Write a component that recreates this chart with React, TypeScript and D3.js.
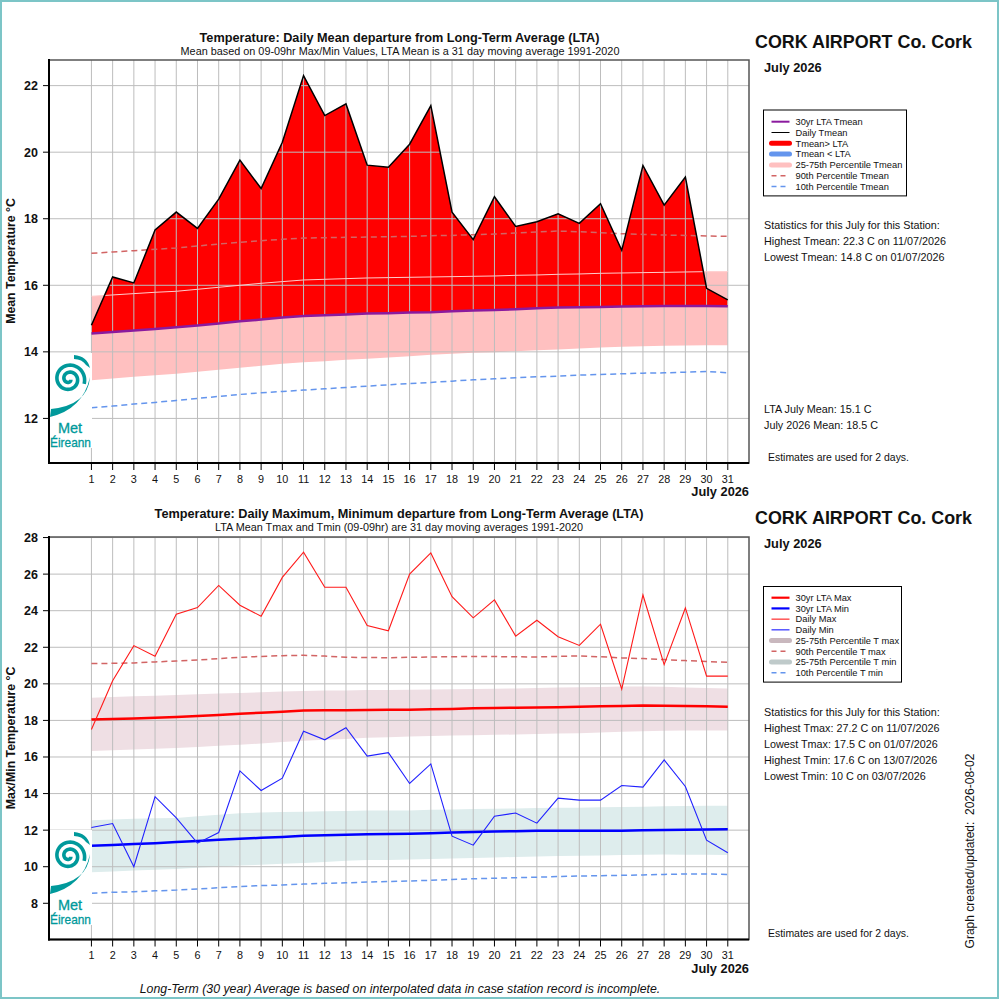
import React from "react";
import * as d3 from "d3";

// ---------- DATA ----------
const days = d3.range(1, 32);

// Top panel: daily mean temperature
const tmean = [14.8, 16.25, 16.07, 17.66, 18.2, 17.71, 18.59, 19.76, 18.91, 20.3, 22.3, 21.1, 21.45, 19.61, 19.55, 20.24, 21.4, 18.2, 17.37, 18.66, 17.77, 17.91, 18.15, 17.86, 18.45, 17.05, 19.6, 18.41, 19.25, 15.91, 15.56];
const ltaMean = [14.55, 14.6, 14.64, 14.69, 14.74, 14.79, 14.85, 14.92, 14.97, 15.03, 15.08, 15.1, 15.12, 15.15, 15.16, 15.18, 15.19, 15.22, 15.24, 15.26, 15.28, 15.31, 15.33, 15.34, 15.35, 15.36, 15.37, 15.38, 15.38, 15.38, 15.37];
const p25Mean = [13.15, 13.2, 13.25, 13.3, 13.34, 13.4, 13.46, 13.52, 13.58, 13.64, 13.69, 13.72, 13.76, 13.79, 13.83, 13.87, 13.91, 13.94, 13.97, 13.99, 14.02, 14.05, 14.07, 14.1, 14.13, 14.15, 14.17, 14.18, 14.19, 14.2, 14.2];
const p75Mean = [15.67, 15.71, 15.75, 15.79, 15.82, 15.88, 15.94, 16.0, 16.06, 16.11, 16.16, 16.18, 16.2, 16.22, 16.23, 16.24, 16.25, 16.26, 16.27, 16.28, 16.3, 16.31, 16.33, 16.34, 16.36, 16.37, 16.38, 16.39, 16.4, 16.41, 16.41];
const p90Mean = [16.96, 17.0, 17.04, 17.08, 17.12, 17.18, 17.24, 17.29, 17.34, 17.38, 17.42, 17.43, 17.44, 17.45, 17.46, 17.47, 17.49, 17.5, 17.52, 17.54, 17.57, 17.6, 17.63, 17.61, 17.58, 17.55, 17.53, 17.51, 17.5, 17.48, 17.47];
const p10Mean = [12.32, 12.37, 12.43, 12.48, 12.54, 12.6, 12.66, 12.72, 12.77, 12.81, 12.85, 12.89, 12.93, 12.97, 13.01, 13.05, 13.08, 13.12, 13.16, 13.19, 13.22, 13.25, 13.27, 13.3, 13.32, 13.34, 13.36, 13.37, 13.39, 13.41, 13.37];

// Bottom panel: daily max / min
const tmax = [17.5, 20.17, 22.09, 21.51, 23.81, 24.17, 25.38, 24.3, 23.7, 25.82, 27.2, 25.28, 25.28, 23.19, 22.9, 26.0, 27.16, 24.77, 23.61, 24.59, 22.61, 23.48, 22.58, 22.1, 23.26, 19.71, 24.86, 21.05, 24.15, 20.42, 20.42];
const tmin = [12.14, 12.36, 10.0, 13.83, 12.67, 11.29, 11.87, 15.24, 14.17, 14.84, 17.41, 16.94, 17.6, 16.05, 16.24, 14.55, 15.62, 11.67, 11.18, 12.76, 12.94, 12.38, 13.75, 13.64, 13.64, 14.44, 14.35, 15.84, 14.39, 11.45, 10.76];
const ltaMax = [18.05, 18.08, 18.11, 18.14, 18.19, 18.24, 18.3, 18.36, 18.42, 18.48, 18.54, 18.55, 18.56, 18.57, 18.58, 18.59, 18.61, 18.63, 18.66, 18.68, 18.69, 18.7, 18.72, 18.75, 18.77, 18.79, 18.81, 18.8, 18.79, 18.77, 18.75];
const p75Max = [19.24, 19.28, 19.32, 19.35, 19.39, 19.43, 19.47, 19.5, 19.54, 19.58, 19.61, 19.63, 19.64, 19.66, 19.67, 19.68, 19.69, 19.7, 19.72, 19.73, 19.75, 19.77, 19.8, 19.82, 19.83, 19.85, 19.86, 19.84, 19.8, 19.77, 19.75];
const p25Max = [16.33, 16.37, 16.41, 16.45, 16.49, 16.55, 16.61, 16.67, 16.74, 16.82, 16.89, 16.94, 16.99, 17.05, 17.08, 17.12, 17.15, 17.17, 17.19, 17.21, 17.23, 17.26, 17.28, 17.3, 17.34, 17.38, 17.41, 17.43, 17.45, 17.45, 17.45];
const p90Max = [21.11, 21.12, 21.14, 21.2, 21.25, 21.3, 21.38, 21.45, 21.5, 21.54, 21.56, 21.52, 21.45, 21.44, 21.43, 21.45, 21.47, 21.48, 21.5, 21.49, 21.48, 21.47, 21.5, 21.53, 21.48, 21.42, 21.38, 21.33, 21.27, 21.22, 21.18];
const ltaMin = [11.14, 11.19, 11.24, 11.29, 11.35, 11.41, 11.47, 11.53, 11.58, 11.63, 11.69, 11.72, 11.75, 11.78, 11.79, 11.8, 11.83, 11.87, 11.9, 11.92, 11.94, 11.96, 11.96, 11.96, 11.96, 11.97, 11.99, 12.01, 12.02, 12.04, 12.05];
const p75Min = [12.54, 12.58, 12.62, 12.65, 12.67, 12.76, 12.84, 12.92, 12.96, 12.99, 13.01, 13.03, 13.05, 13.08, 13.08, 13.08, 13.11, 13.13, 13.15, 13.17, 13.19, 13.21, 13.22, 13.23, 13.25, 13.27, 13.28, 13.3, 13.32, 13.33, 13.34];
const p25Min = [9.7, 9.74, 9.79, 9.84, 9.88, 9.94, 10.0, 10.06, 10.11, 10.16, 10.2, 10.26, 10.32, 10.37, 10.37, 10.39, 10.42, 10.45, 10.48, 10.51, 10.53, 10.56, 10.58, 10.6, 10.62, 10.64, 10.66, 10.67, 10.66, 10.65, 10.64];
const p10Min = [8.55, 8.6, 8.63, 8.68, 8.72, 8.78, 8.85, 8.92, 8.97, 9.0, 9.05, 9.09, 9.12, 9.16, 9.19, 9.22, 9.26, 9.3, 9.34, 9.37, 9.4, 9.43, 9.46, 9.49, 9.51, 9.53, 9.55, 9.58, 9.6, 9.6, 9.58];

const yTicksTop = [12, 14, 16, 18, 20, 22];
const yTicksBottom = [8, 10, 12, 14, 16, 18, 20, 22, 24, 26, 28];

const legendTop = [
  { label: "30yr LTA Tmean", color: "#8b1a9e", width: 2, dash: "" },
  { label: "Daily Tmean", color: "#000000", width: 1, dash: "" },
  { label: "Tmean> LTA", color: "#ff0000", width: 5, dash: "" },
  { label: "Tmean < LTA", color: "#6495ed", width: 5, dash: "" },
  { label: "25-75th Percentile Tmean", color: "#ffc0c0", width: 5, dash: "" },
  { label: "90th Percentile Tmean", color: "#d26464", width: 1.5, dash: "5,4" },
  { label: "10th Percentile Tmean", color: "#6495ed", width: 1.5, dash: "5,4" },
];
const legendBottom = [
  { label: "30yr LTA Max", color: "#ff0000", width: 2.2, dash: "" },
  { label: "30yr LTA Min", color: "#0000ff", width: 2.2, dash: "" },
  { label: "Daily Max", color: "#ff0000", width: 1, dash: "" },
  { label: "Daily Min", color: "#0000ff", width: 1, dash: "" },
  { label: "25-75th Percentile T max", color: "#c9b8be", width: 5, dash: "" },
  { label: "90th Percentile T max", color: "#d26464", width: 1.5, dash: "5,4" },
  { label: "25-75th Percentile T min", color: "#bfcaca", width: 5, dash: "" },
  { label: "10th Percentile T min", color: "#6495ed", width: 1.5, dash: "5,4" },
];

const statsTop = [
  "Statistics for this July for this Station:",
  "Highest Tmean: 22.3 C on 11/07/2026",
  "Lowest Tmean: 14.8 C on 01/07/2026",
];
const statsBottom = [
  "Statistics for this July for this Station:",
  "Highest Tmax: 27.2 C on 11/07/2026",
  "Lowest Tmax: 17.5 C on 01/07/2026",
  "Highest Tmin: 17.6 C on 13/07/2026",
  "Lowest Tmin: 10 C on 03/07/2026",
];

// ---------- LAYOUT ----------
const FONT = "'Liberation Sans', Arial, Helvetica, sans-serif";
const X0 = 49;
const X1 = 749;
const x = d3.scaleLinear().domain([-1, 32]).range([X0, X1]);
const TEAL = "#00999b";

function Logo({ bx, by }: { bx: number; by: number }) {
  const cx = bx + 20;
  const cy = by + 26;
  const pts: [number, number][] = [];
  for (let t = 0.4; t <= 4.1 * Math.PI; t += 0.12) {
    const r = 1.5 + t * 1.12;
    pts.push([cx + r * Math.cos(t), cy + r * Math.sin(t)]);
  }
  const spiral = d3.line()(pts) || "";
  const tail = `M ${bx + 1} ${by + 64} Q ${bx + 34} ${by + 56} ${bx + 41} ${by + 24} Q ${bx + 39} ${by + 52} ${bx + 2} ${by + 56} Z`;
  const hook = `M ${bx + 25} ${by + 2} Q ${bx + 38} ${by + 3} ${bx + 41} ${by + 15} L ${bx + 37} ${by + 12} Q ${bx + 33} ${by + 6} ${bx + 25} ${by + 6} Z`;
  return (
    <g>
      <rect x={bx} y={by} width={43} height={95} fill="#ffffff" />
      <path d={spiral} fill="none" stroke={TEAL} strokeWidth={3.6} />
      <path d={tail} fill={TEAL} />
      <path d={hook} fill={TEAL} />
      <text x={bx + 21} y={by + 80} fontSize={14.5} fontFamily={FONT} fill={TEAL} stroke={TEAL} strokeWidth={0.3} textAnchor="middle">Met</text>
      <text x={bx + 1} y={by + 94} fontSize={13.5} fontFamily={FONT} fill={TEAL} stroke={TEAL} strokeWidth={0.3} textLength={41} lengthAdjust="spacingAndGlyphs">Éireann</text>
    </g>
  );
}

function Legend({ items, lx, ly, w, rowStart, rowStep }: any) {
  const h = rowStart + rowStep * items.length - rowStep / 2 + 4;
  return (
    <g>
      <rect x={lx} y={ly} width={w} height={h} fill="#fff" stroke="#000" strokeWidth={1} />
      {items.map((it: any, i: number) => {
        const yy = ly + rowStart + i * rowStep;
        return (
          <g key={i}>
            <line x1={lx + 8} x2={lx + 26} y1={yy} y2={yy} stroke={it.color} strokeWidth={it.width}
              strokeDasharray={it.dash || undefined} strokeLinecap={it.width >= 5 ? "round" : "butt"} />
            <text x={lx + 32} y={yy + 3.3} fontSize={9.3} fontFamily={FONT} fill="#111">{it.label}</text>
          </g>
        );
      })}
    </g>
  );
}

function Frame({ y, top, bottom, ticks, yTitle, titleCenter }: any) {
  return (
    <g>
      {ticks.map((t: number) => (
        <g key={t}>
          <line x1={X0 - 6} x2={X0} y1={y(t)} y2={y(t)} stroke="#000" strokeWidth={1} />
          <text x={X0 - 11} y={y(t) + 4.5} fontSize={12.5} fontWeight="bold" fontFamily={FONT} textAnchor="end" fill="#111">{t}</text>
        </g>
      ))}
      {days.map((d) => (
        <g key={d}>
          <line x1={x(d)} x2={x(d)} y1={bottom} y2={bottom + 7} stroke="#000" strokeWidth={1} />
          <text x={x(d)} y={bottom + 19.5} fontSize={10.8} fontFamily={FONT} textAnchor="middle" fill="#111">{d}</text>
        </g>
      ))}
      <text x={X1} y={bottom + 33} fontSize={12.8} fontWeight="bold" fontFamily={FONT} textAnchor="end" fill="#111">July 2026</text>
      <rect x={X0} y={top} width={X1 - X0} height={bottom - top} fill="none" stroke="#555" strokeWidth={1.5} />
      <line x1={X0} x2={X0} y1={top - 1} y2={bottom + 1} stroke="#000" strokeWidth={2} />
      <line x1={X0 - 1} x2={X1} y1={bottom} y2={bottom} stroke="#000" strokeWidth={2} />
      <text transform={`translate(15,${titleCenter}) rotate(-90)`} fontSize={12.3} fontWeight="bold" fontFamily={FONT} textAnchor="middle" fill="#111">{yTitle}</text>
    </g>
  );
}

function Grid({ y, top, bottom, ticks }: any) {
  return (
    <g>
      {days.map((d) => (
        <line key={"v" + d} x1={x(d)} x2={x(d)} y1={top} y2={bottom} stroke="#bdbdbd" strokeWidth={1} />
      ))}
      {ticks.map((t: number) => (
        <line key={"h" + t} x1={X0} x2={X1} y1={y(t)} y2={y(t)} stroke="#bdbdbd" strokeWidth={1} />
      ))}
    </g>
  );
}

export default function App() {
  const T0 = 60, T1 = 463;
  const yT = d3.scaleLinear().domain([10.66, 22.77]).range([T1, T0]);
  const lineT = d3.line<number>().x((_, i) => x(days[i])).y((v) => yT(v));
  const bandT = (lo: number[], hi: number[]) =>
    d3.area<number>().x((_, i) => x(days[i])).y0((_, i) => yT(lo[i])).y1((v) => yT(v))(hi) || "";
  const above = tmean.map((v, i) => Math.max(v, ltaMean[i]));
  const below = tmean.map((v, i) => Math.min(v, ltaMean[i]));

  const B0 = 537, B1 = 939.5;
  const yB = d3.scaleLinear().domain([6.02, 28.03]).range([B1, B0]);
  const lineB = d3.line<number>().x((_, i) => x(days[i])).y((v) => yB(v));
  const bandB = (lo: number[], hi: number[]) =>
    d3.area<number>().x((_, i) => x(days[i])).y0((_, i) => yB(lo[i])).y1((v) => yB(v))(hi) || "";

  return (
    <div style={{ position: "absolute", left: 0, top: 0 }}>
      <svg width={1000} height={1000} viewBox="0 0 1000 1000" style={{ display: "block", background: "#fff" }}>
        <rect x={0} y={0} width={1000} height={1000} fill="#fff" />
        <rect x={1} y={1} width={997} height={997} fill="none" stroke="#7cc5c7" strokeWidth={2} />

        {/* ---------- TOP PANEL ---------- */}
        <text x={399.5} y={42} fontSize={12.7} fontWeight="bold" fontFamily={FONT} textAnchor="middle" fill="#111">Temperature: Daily Mean departure from Long-Term Average (LTA)</text>
        <text x={400} y={54.5} fontSize={10.85} fontFamily={FONT} textAnchor="middle" fill="#111">Mean based on 09-09hr Max/Min Values, LTA Mean is a 31 day moving average 1991-2020</text>

        <path d={bandT(p25Mean, p75Mean)} fill="#ffc0c0" />
        <path d={bandT(ltaMean, above)} fill="#ff0000" />
        <path d={bandT(below, ltaMean)} fill="#6495ed" />
        <Grid y={yT} top={T0} bottom={T1} ticks={yTicksTop} />
        <path d={lineT(p75Mean) || ""} fill="none" stroke="#ffcccc" strokeWidth={1} />
        <path d={lineT(p90Mean) || ""} fill="none" stroke="#d26464" strokeWidth={1.5} strokeDasharray="6,4" />
        <path d={lineT(p10Mean) || ""} fill="none" stroke="#6495ed" strokeWidth={1.5} strokeDasharray="6,4" />
        <path d={lineT(ltaMean) || ""} fill="none" stroke="#8b1a9e" strokeWidth={2.5} />
        <path d={lineT(tmean) || ""} fill="none" stroke="#000" strokeWidth={1.5} />
        <Logo bx={49} by={353} />
        <Frame y={yT} top={T0} bottom={T1} ticks={yTicksTop} yTitle="Mean Temperature °C" titleCenter={261} />

        <text x={755} y={48} fontSize={17.9} fontWeight="bold" fontFamily={FONT} fill="#111">CORK AIRPORT Co. Cork</text>
        <text x={764} y={72} fontSize={12.8} fontWeight="bold" fontFamily={FONT} fill="#111">July 2026</text>
        <Legend items={legendTop} lx={763.5} ly={110} w={143} rowStart={11.7} rowStep={10.8} />
        {statsTop.map((s, i) => (
          <text key={i} x={764} y={229 + i * 16} fontSize={10.8} fontFamily={FONT} fill="#111">{s}</text>
        ))}
        <text x={764} y={413} fontSize={10.8} fontFamily={FONT} fill="#111">LTA July Mean: 15.1 C</text>
        <text x={764} y={429} fontSize={10.8} fontFamily={FONT} fill="#111">July 2026 Mean: 18.5 C</text>
        <text x={768} y={461} fontSize={10.45} fontFamily={FONT} fill="#111">Estimates are used for 2 days.</text>

        {/* ---------- BOTTOM PANEL ---------- */}
        <text x={399} y={518} fontSize={12.7} fontWeight="bold" fontFamily={FONT} textAnchor="middle" fill="#111">Temperature: Daily Maximum, Minimum departure from Long-Term Average (LTA)</text>
        <text x={399} y={530.5} fontSize={10.85} fontFamily={FONT} textAnchor="middle" fill="#111">LTA Mean Tmax and Tmin (09-09hr) are 31 day moving averages 1991-2020</text>

        <path d={bandB(p25Max, p75Max)} fill="#efdfe4" />
        <path d={bandB(p25Min, p75Min)} fill="#deeded" />
        <Grid y={yB} top={B0} bottom={B1} ticks={yTicksBottom} />
        <path d={lineB(p90Max) || ""} fill="none" stroke="#d26464" strokeWidth={1.5} strokeDasharray="6,4" />
        <path d={lineB(p10Min) || ""} fill="none" stroke="#6495ed" strokeWidth={1.5} strokeDasharray="6,4" />
        <path d={lineB(ltaMax) || ""} fill="none" stroke="#ff0000" strokeWidth={2.5} />
        <path d={lineB(ltaMin) || ""} fill="none" stroke="#0000ff" strokeWidth={2.5} />
        <path d={lineB(tmax) || ""} fill="none" stroke="#ff1a1a" strokeWidth={1.1} />
        <path d={lineB(tmin) || ""} fill="none" stroke="#2020ff" strokeWidth={1.1} />
        <Logo bx={49} by={830} />
        <Frame y={yB} top={B0} bottom={B1} ticks={yTicksBottom} yTitle="Max/Min Temperature °C" titleCenter={738} />

        <text x={755} y={524} fontSize={17.9} fontWeight="bold" fontFamily={FONT} fill="#111">CORK AIRPORT Co. Cork</text>
        <text x={764} y={548} fontSize={12.8} fontWeight="bold" fontFamily={FONT} fill="#111">July 2026</text>
        <Legend items={legendBottom} lx={763.5} ly={586.5} w={138} rowStart={11.2} rowStep={10.72} />
        {statsBottom.map((s, i) => (
          <text key={i} x={764} y={716 + i * 16} fontSize={10.8} fontFamily={FONT} fill="#111">{s}</text>
        ))}
        <text x={768} y={937} fontSize={10.45} fontFamily={FONT} fill="#111">Estimates are used for 2 days.</text>
        <text transform="translate(974,851) rotate(-90)" fontSize={12} fontFamily={FONT} textAnchor="middle" fill="#111" style={{ whiteSpace: "pre" }}>{"Graph created/updated:  2026-08-02"}</text>

        <text x={400} y={993} fontSize={12.3} fontStyle="italic" fontFamily={FONT} textAnchor="middle" fill="#111">Long-Term (30 year) Average is based on interpolated data in case station record is incomplete.</text>
      </svg>
    </div>
  );
}
